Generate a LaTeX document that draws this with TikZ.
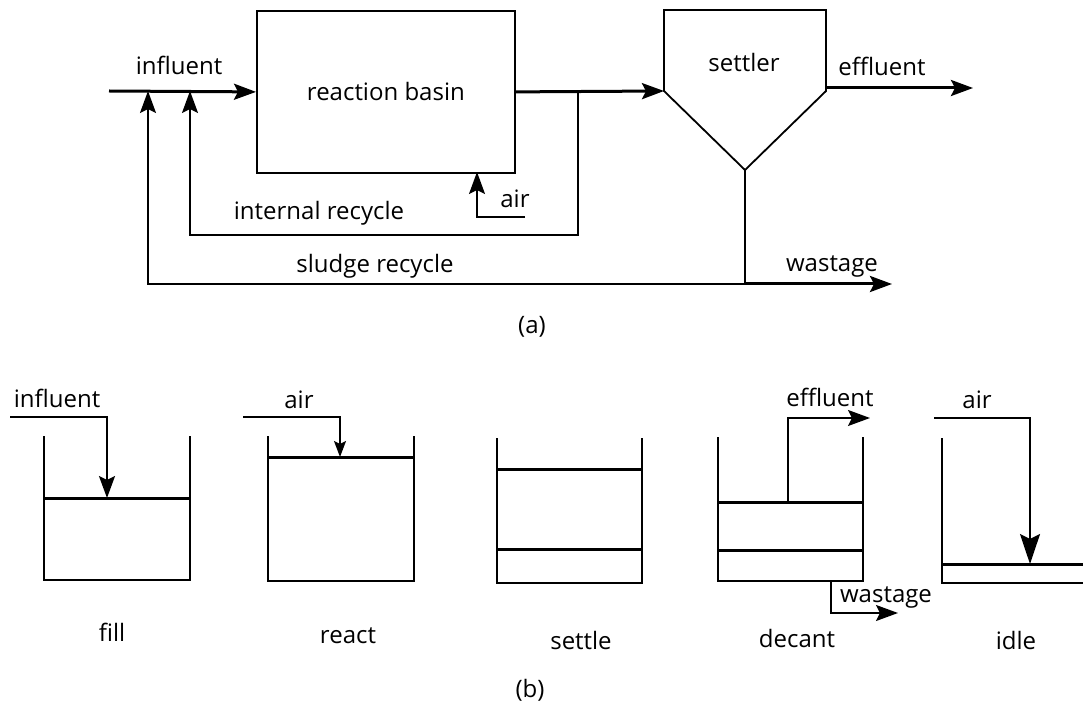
\documentclass[tikz,border=0pt]{standalone}
\usepackage{fontspec}
\setmainfont{Open Sans}
\usetikzlibrary{arrows.meta}
\begin{document}
\begin{tikzpicture}[x=1pt,y=-1pt,
  thinline/.style={line width=1.6pt},
  medline/.style={line width=2.2pt},
  flow/.style={line width=3pt},
  arr/.style={-{Stealth[length=22pt,width=16pt,inset=4pt]}},
  smallarr/.style={-{Stealth[length=16pt,width=12pt,inset=3pt]}},
  bigarr/.style={-{Stealth[length=30pt,width=20pt,inset=5pt]}},
  lbl/.style={font=\fontsize{24}{28}\selectfont, inner sep=0pt},
]
\useasboundingbox (0,0) rectangle (1083,708);

% ---------- (a) ----------
\node[draw, line width=1.8pt, minimum width=258pt, minimum height=162pt,
      anchor=north west, lbl] (basin) at (256,10) {reaction basin};

\coordinate (s1) at (664,10);
\coordinate (s2) at (826,10);
\coordinate (s3) at (826,91);
\coordinate (s4) at (745,170);
\coordinate (s5) at (664,91);
\draw[line width=1.8pt] (s5) -- (s1) -- (s2) -- (s3) -- (s4) -- cycle;
\node[lbl] (settlerlbl) at (744,63) {settler};

\coordinate (inl) at (109,91);
\coordinate (j1) at (148,91);
\coordinate (j2) at (190,91);
\draw[flow, arr] (inl) -- (basin.west);
\node[lbl] (inflbl) at (179,65) {influent};

\coordinate (ir0) at (578,91);
\coordinate (ir1) at (578,235);
\coordinate (ir2) at (190,235);
\draw[flow, arr] (basin.east) -- (s5);
\draw[thinline, arr] (ir0) -- (ir1) -- (ir2) -- (j2);
\node[lbl] (irlbl) at (319,213) {internal recycle};

\coordinate (air0) at (525,217);
\coordinate (air1) at (477,217);
\coordinate (air2) at (477,172);
\draw[thinline, arr] (air0) -- (air1) -- (air2);
\node[lbl] (airlbl) at (515,199) {air};

\coordinate (sb) at (745,284);
\coordinate (sr1) at (148,284);
\coordinate (wa) at (892,284);
\draw[thinline] (s4) -- (sb);
\draw[thinline, arr] (sb) -- (sr1) -- (j1);
\draw[flow, arr] (sb) -- (wa);
\node[lbl] (srlbl) at (375,266) {sludge recycle};
\node[lbl] (walbl) at (832,266) {wastage};

\coordinate (ef0) at (826,88);
\coordinate (ef1) at (973,88);
\draw[flow, arr] (ef0) -- (ef1);
\node[lbl] (eflbl) at (882,66) {effluent};

\node[lbl] (alab) at (532,327) {(a)};

% ---------- (b) ----------
% fill
\coordinate (f1) at (44,436); \coordinate (f2) at (44,580);
\coordinate (f3) at (190,580); \coordinate (f4) at (190,436);
\draw[thinline] (f1) -- (f2) -- (f3) -- (f4);
\coordinate (fl1) at (44,498); \coordinate (fl2) at (190,498);
\draw[flow] (fl1) -- (fl2);
\coordinate (fi0) at (10,417); \coordinate (fi1) at (107,417); \coordinate (fi2) at (107,498);
\draw[medline, arr] (fi0) -- (fi1) -- (fi2);
\node[lbl] (filllbl0) at (57,398) {influent};
\node[lbl] (filllbl) at (112,632) {fill};

% react
\coordinate (r1) at (268,436); \coordinate (r2) at (268,581);
\coordinate (r3) at (414,581); \coordinate (r4) at (414,436);
\draw[thinline] (r1) -- (r2) -- (r3) -- (r4);
\coordinate (rl1) at (268,457); \coordinate (rl2) at (415,457);
\draw[flow] (rl1) -- (rl2);
\coordinate (ra0) at (243,417); \coordinate (ra1) at (340,417); \coordinate (ra2) at (340,457);
\draw[thinline, smallarr] (ra0) -- (ra1) -- (ra2);
\node[lbl] (reactair) at (299,400) {air};
\node[lbl] (reactlbl) at (348,636) {react};

% settle
\coordinate (t1) at (497,438); \coordinate (t2) at (497,583);
\coordinate (t3) at (642,583); \coordinate (t4) at (642,438);
\draw[thinline] (t1) -- (t2) -- (t3) -- (t4);
\coordinate (tl1) at (496,469); \coordinate (tl2) at (642,469);
\coordinate (tl3) at (497,549); \coordinate (tl4) at (642,549);
\draw[flow] (tl1) -- (tl2);
\draw[flow] (tl3) -- (tl4);
\node[lbl] (settlelbl) at (581,640) {settle};

% decant
\coordinate (d1) at (718,437); \coordinate (d2) at (718,581);
\coordinate (d3) at (863,581); \coordinate (d4) at (863,437);
\draw[thinline] (d1) -- (d2) -- (d3) -- (d4);
\coordinate (dl1) at (718,502); \coordinate (dl2) at (863,502);
\coordinate (dl3) at (718,550); \coordinate (dl4) at (863,550);
\draw[flow] (dl1) -- (dl2);
\draw[flow] (dl3) -- (dl4);
\coordinate (de0) at (788,502); \coordinate (de1) at (788,418); \coordinate (de2) at (870,418);
\draw[thinline, arr] (de0) -- (de1) -- (de2);
\node[lbl] (decef) at (830,397) {effluent};
\coordinate (dw0) at (831,581); \coordinate (dw1) at (831,613); \coordinate (dw2) at (898,613);
\draw[thinline, arr] (dw0) -- (dw1) -- (dw2);
\node[lbl] (decwa) at (886,597) {wastage};
\node[lbl] (decantlbl) at (797,638) {decant};

% idle
\coordinate (i1) at (942,438); \coordinate (i2) at (942,583); \coordinate (i3) at (1083,583);
\draw[thinline] (i1) -- (i2) -- (i3);
\coordinate (il1) at (942,564); \coordinate (il2) at (1083,564);
\draw[flow] (il1) -- (il2);
\coordinate (ia0) at (934,418); \coordinate (ia1) at (1030,418); \coordinate (ia2) at (1030,564);
\draw[medline, bigarr] (ia0) -- (ia1) -- (ia2);
\node[lbl] (idleair) at (977,400) {air};
\node[lbl] (idlelbl) at (1016,640) {idle};

\node[lbl] (blab) at (530,690) {(b)};
\end{tikzpicture}
\end{document}
